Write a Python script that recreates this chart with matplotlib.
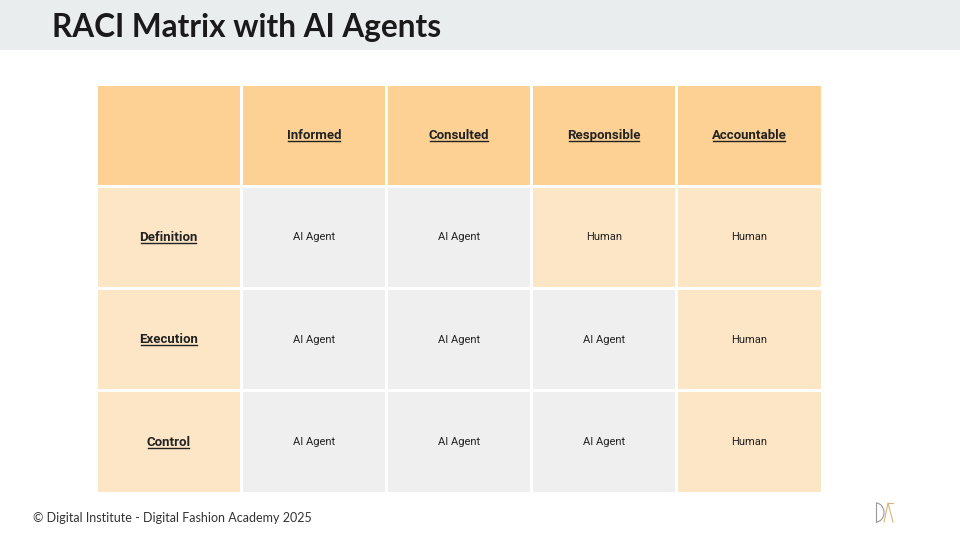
import matplotlib
matplotlib.use("Agg")
import matplotlib.pyplot as plt
from matplotlib.patches import Rectangle

title = "RACI Matrix with AI Agents"
columns = ["Informed", "Consulted", "Responsible", "Accountable"]
rows = ["Definition", "Execution", "Control"]
cells = [["AI Agent", "AI Agent", "Human", "Human"],
         ["AI Agent", "AI Agent", "AI Agent", "Human"],
         ["AI Agent", "AI Agent", "AI Agent", "Human"]]
footer = "© Digital Institute - Digital Fashion Academy 2025"

HEAD = "#FDD194"; LIGHT = "#FDE6C6"; GREY = "#EFEFEF"

fig = plt.figure(figsize=(9.6, 5.4), dpi=100)
ax = fig.add_axes([0, 0, 1, 1])
ax.set_xlim(0, 960); ax.set_ylim(540, 0); ax.axis("off")

ax.add_patch(Rectangle((0, 0), 960, 50, color="#E9EDED", lw=0))
ax.text(52, 28, title, fontsize=22.7, fontweight="bold", family="Lato", color="#1a1a1a", va="center")
ax.text(33, 518, footer, fontsize=9, family="Lato", color="#333333", va="center")

x0, y0 = 96, 84
cw, rh = 145.2, 102.3
gap = 3
under = []
def cell(c, r, color, label, bold):
    x = x0 + c * cw; y = y0 + r * rh
    ax.add_patch(Rectangle((x + gap/2, y + gap/2), cw - gap, rh - gap, color=color, lw=0))
    if label:
        t = ax.text(x + cw/2, y + rh/2, label, ha="center", va="center", family="Roboto",
                    fontsize=9.5 if bold else 8, fontweight="bold" if bold else "normal", color="#222222")
        if bold:
            under.append(t)

cell(0, 0, HEAD, "", True)
for j, col in enumerate(columns):
    cell(j + 1, 0, HEAD, col, True)
for i, rname in enumerate(rows):
    cell(0, i + 1, LIGHT, rname, True)
    for j, v in enumerate(cells[i]):
        cell(j + 1, i + 1, LIGHT if v == "Human" else GREY, v, False)

fig.canvas.draw()
r = fig.canvas.get_renderer()
inv = ax.transData.inverted()
for t in under:
    bb = t.get_window_extent(r)
    (xa, ya), (xb, yb) = inv.transform([(bb.x0, bb.y0), (bb.x1, bb.y0)])
    ax.plot([xa + 1.5, xb - 1.5], [ya - 1, yb - 1], color="#222222", lw=1)

# logo
ax.plot([876, 876], [503, 522], color="#999999", lw=0.8)
ax.add_patch(matplotlib.patches.Arc((876, 512.5), 16, 19, theta1=-90, theta2=90, color="#999999", lw=0.8))
ax.plot([884, 888, 893], [522, 503, 522], color="#d8b47a", lw=0.8)
ax.plot([888, 893], [503, 503], color="#d8b47a", lw=0.8)

fig.savefig("out.png", dpi=100)
